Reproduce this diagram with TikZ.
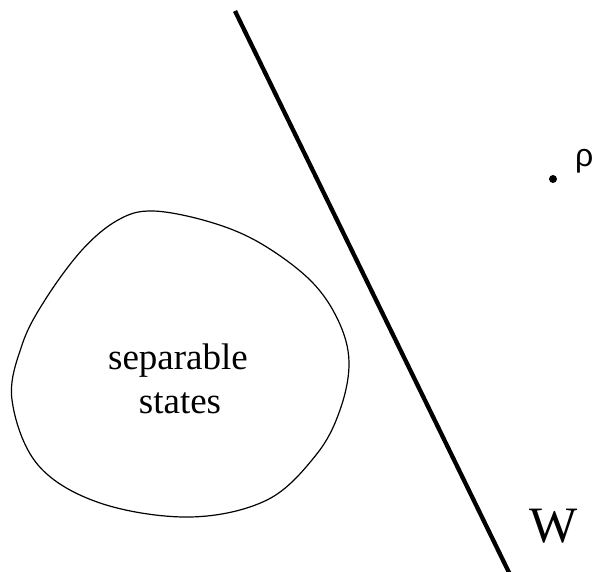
\documentclass[tikz,border=0pt]{standalone}
\usepackage{fontspec}
\setmainfont{Liberation Serif}
\newfontfamily\rhofont{Liberation Sans}
\begin{document}
\begin{tikzpicture}[x=1pt,y=-1pt,
  wall/.style={line width=4.3pt,line cap=butt},
  blob/.style={line width=1.2pt},
  lbl/.style={inner sep=0pt,anchor=base}]
\useasboundingbox (0,0) rectangle (595,571);
% separable set
\draw[blob] plot[smooth cycle,tension=0.6] coordinates {
  (153,211) (210,222) (260,243) (310,280) (338,320) (349,362) (340,410)
  (316,455) (267,500) (190,517) (100,503) (38,465) (12,400) (22,345)
  (45,300) (82,250) (118,220)};
\node[lbl,font=\fontsize{37}{44}\selectfont] (sep1) at (178,369) {separable};
\node[lbl,font=\fontsize{37}{44}\selectfont] (sep2) at (180,413) {states};
% witness line
\coordinate (wtop) at (235,11);
\coordinate (wbot) at (519,593);
\draw[wall] (wtop) -- (wbot);
\node[lbl,anchor=base west,font=\fontsize{51}{60}\selectfont] (W) at (529,542) {W};
% state rho
\node[circle,fill=black,inner sep=0pt,minimum size=8pt] (dot) at (553,179) {};
\node[lbl,anchor=base west,font=\rhofont\fontsize{32}{38}\selectfont] (rho) at (575,166) {ρ};
\end{tikzpicture}
\end{document}
